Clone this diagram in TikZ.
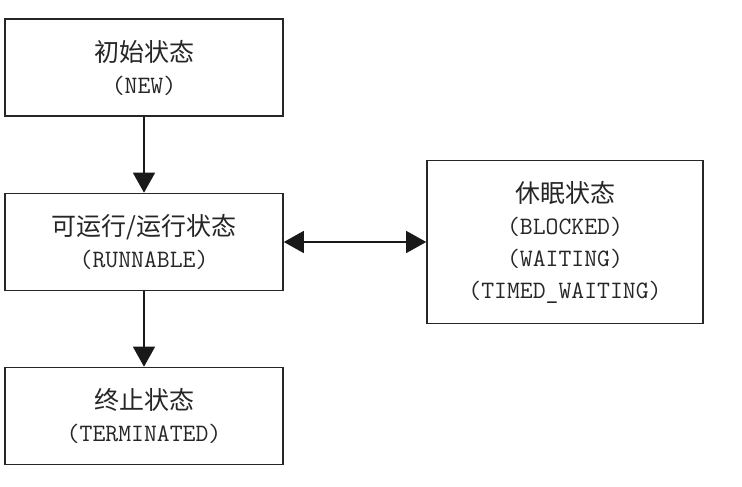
\documentclass[tikz,border=0pt]{standalone}
\usepackage{fontspec}
\newfontfamily\cjk{Noto Sans CJK SC}
\usetikzlibrary{arrows.meta}
\newcommand{\zh}[1]{{\cjk\fontsize{25bp}{32bp}\selectfont #1}}
\begin{document}
\begin{tikzpicture}[x=1bp,y=-1bp,
  box/.style={draw=black!85, line width=1.6bp, minimum width=278bp, minimum height=97bp,
    align=center, inner sep=0pt, text=black!85, font=\ttfamily\fontsize{25bp}{32bp}\selectfont},
  tip/.tip={Triangle[length=20bp,width=22bp]},
  arr/.style={line width=1.3bp, draw=black!90, -tip}]
\useasboundingbox[fill=white] (0,0) rectangle (742,487);
\node[box] (new) at (144,67.5) {\zh{初始状态}\\(NEW)};
\node[box] (run) at (144,242) {\zh{可运行/运行状态}\\(RUNNABLE)};
\node[box] (term) at (144,416) {\zh{终止状态}\\(TERMINATED)};
\node[box, minimum width=276bp, minimum height=163bp] (sleep) at (565,242)
  {\zh{休眠状态}\\(BLOCKED)\\(WAITING)\\(TIMED\_WAITING)};
\draw[arr] (new) -- (run);
\draw[arr] (run) -- (term);
\draw[arr, tip-tip] (run) -- (sleep);
\end{tikzpicture}
\end{document}
